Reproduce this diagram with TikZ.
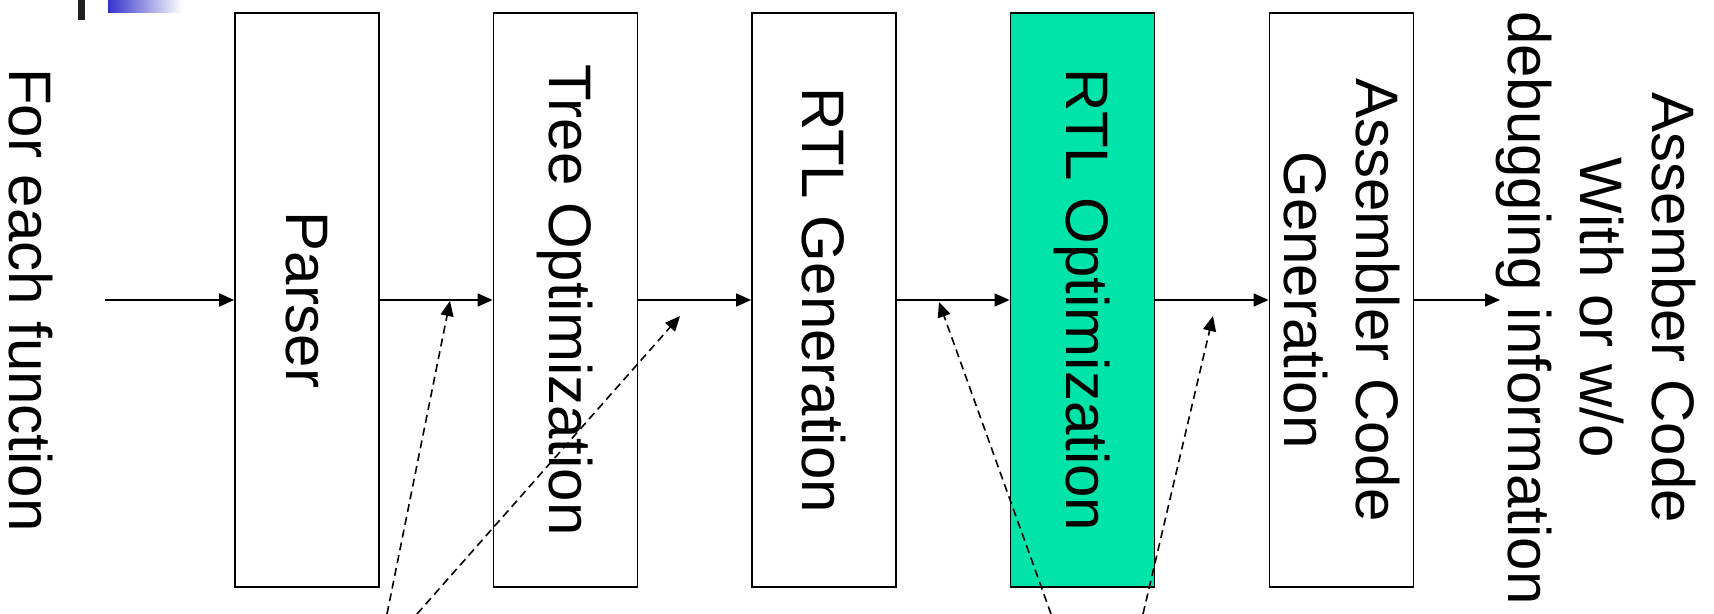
\documentclass[tikz,border=0pt]{standalone}
\usepackage{fontspec}
\setmainfont{Liberation Sans}
\usetikzlibrary{arrows.meta}
\definecolor{stepgreen}{RGB}{0,228,170}
\definecolor{barblue}{RGB}{51,51,204}
\begin{document}
\begin{tikzpicture}[x=0.5pt,y=-0.5pt,
  stagebox/.style={draw=black, line width=0.9pt, rotate=-90, minimum width=287pt, minimum height=72pt, inner sep=0pt, align=center, font=\fontsize{30}{36}\selectfont},
  flowarrow/.style={line width=0.8pt, -{Triangle[length=7.5pt,width=6.5pt]}},
  hintarrow/.style={line width=0.8pt, dash pattern=on 4pt off 2.5pt, -{Triangle[length=7.5pt,width=6.5pt]}},
  sidetext/.style={rotate=-90, inner sep=0pt, align=center, font=\fontsize{30}{36}\selectfont}]
\useasboundingbox (0,0) rectangle (1714,614);
% corner decoration
\fill[black!88] (78,0) rectangle (85,20);
\shade[left color=barblue, right color=white] (108,0) rectangle (182,13);
% texts outside boxes
\node[sidetext, anchor=base] (fn) at (10,300) {For each function};
\node[sidetext] (outtxt) at (1596,308) {Assember Code\\With or w/o\\debugging information};
% stages
\node[stagebox] (parser) at (307,300) {Parser};
\node[stagebox] (tree) at (565.5,300) {Tree Optimization};
\node[stagebox] (rtlgen) at (824,300) {RTL Generation};
\node[stagebox, fill=stepgreen] (rtlopt) at (1082.5,300) {RTL Optimization};
\node[stagebox] (asmgen) at (1341.5,300) {Assembler Code\\Generation};
% flow
\coordinate (in) at (105,300);
\coordinate (out) at (1500,300);
\draw[flowarrow] (in) -- (parser);
\draw[flowarrow] (parser) -- (tree);
\draw[flowarrow] (tree) -- (rtlgen);
\draw[flowarrow] (rtlgen) -- (rtlopt);
\draw[flowarrow] (rtlopt) -- (asmgen);
\draw[flowarrow] (asmgen) -- (out);
% dashed hints
\coordinate (d1s) at (387,614); \coordinate (d1e) at (450,301);
\coordinate (d2s) at (417,614); \coordinate (d2e) at (680,316);
\coordinate (d3s) at (1051,614); \coordinate (d3e) at (939,302);
\coordinate (d4s) at (1143,614); \coordinate (d4e) at (1213,316);
\draw[hintarrow] (d1s) -- (d1e);
\draw[hintarrow] (d2s) -- (d2e);
\draw[hintarrow] (d3s) -- (d3e);
\draw[hintarrow] (d4s) -- (d4e);
\end{tikzpicture}
\end{document}
